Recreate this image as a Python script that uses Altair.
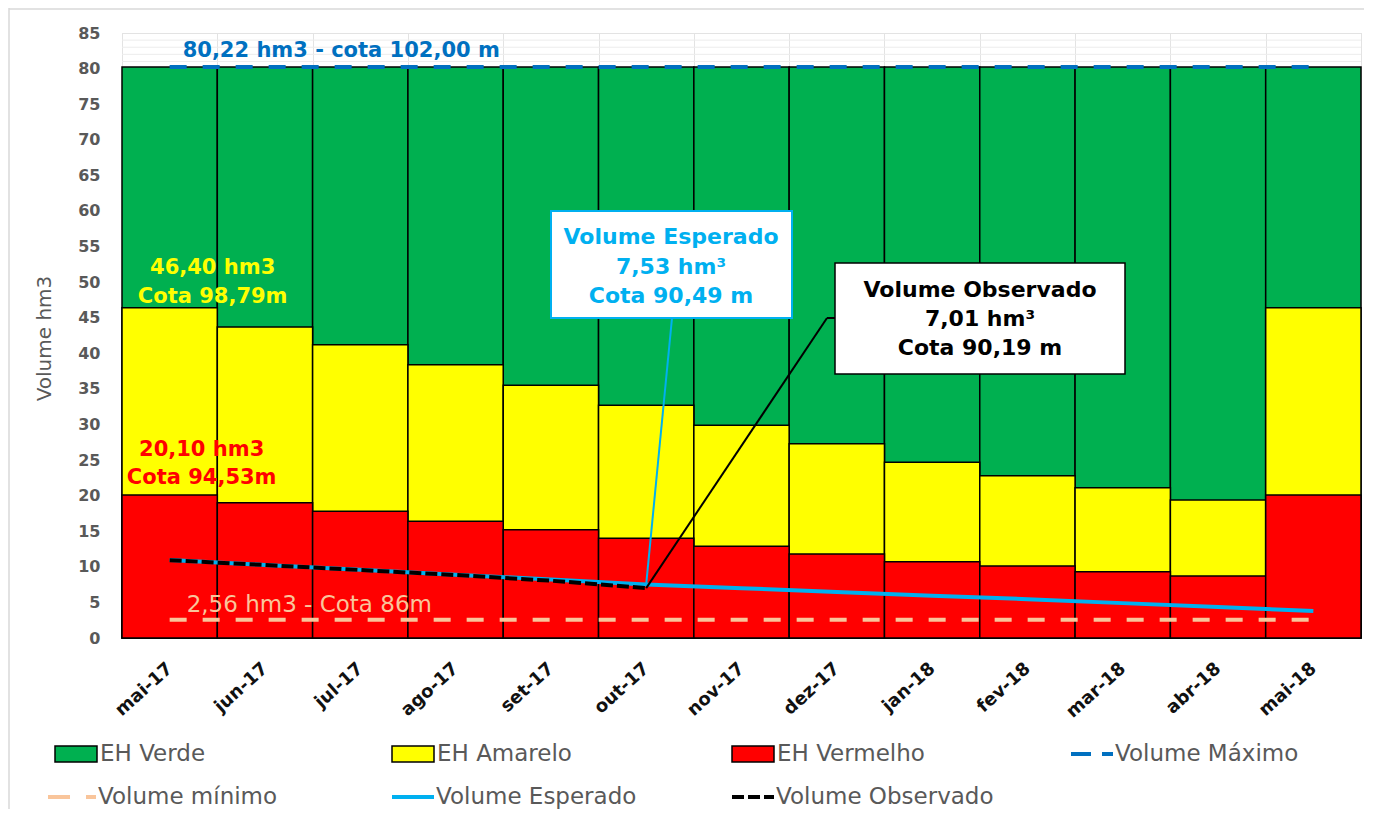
import altair as alt
import pandas as pd

months = ["mai-17", "jun-17", "jul-17", "ago-17", "set-17", "out-17", "nov-17",
          "dez-17", "jan-18", "fev-18", "mar-18", "abr-18", "mai-18"]
verde = [80.22, 80.22, 80.22, 80.22, 80.22, 80.22, 80.22, 80.22, 80.22, 80.22, 80.22, 80.22, 80.22]
amarelo = [46.40, 43.7, 41.2, 38.4, 35.5, 32.7, 29.9, 27.3, 24.7, 22.8, 21.1, 19.4, 46.40]
vermelho = [20.10, 19.0, 17.8, 16.4, 15.2, 14.0, 12.9, 11.8, 10.7, 10.1, 9.3, 8.7, 20.10]
esperado = [10.96, 10.27, 9.59, 8.9, 8.21, 7.53, 7.0, 6.45, 5.95, 5.45, 4.9, 4.35, 3.8]
observado = [10.93, 10.25, 9.55, 8.85, 8.05, 7.01, None, None, None, None, None, None, None]
vol_max = [80.22] * 13
vol_min = [2.56] * 13
y_ticks = [0, 5, 10, 15, 20, 25, 30, 35, 40, 45, 50, 55, 60, 65, 70, 75, 80, 85]
minor_grid = [81, 82, 83, 84]

df = pd.DataFrame({"month": months, "verde": verde, "amarelo": amarelo,
                   "vermelho": vermelho, "esperado": esperado, "observado": observado,
                   "vmax": vol_max, "vmin": vol_min})
obs_df = df.dropna(subset=["observado"])
grid_df = pd.DataFrame({"g": minor_grid})

W, H = 1239, 605
FONT = "DejaVu Sans"
GRAY = "#595959"

x_axis = alt.Axis(labelAngle=-42, labelAlign="right", labelBaseline="middle",
                  labelFont=FONT, labelFontWeight="bold", labelFontSize=18,
                  labelColor="#111111", labelPadding=28, ticks=False,
                  labelOverlap=False,
                  domain=True, domainColor="#d9d9d9", grid=True,
                  gridColor="#e3e3e3", tickBand="extent")
x_scale = alt.Scale(paddingInner=0, paddingOuter=0)
y_scale = alt.Scale(domain=[0, 85], nice=False)
y_axis = alt.Axis(values=y_ticks, labelOverlap=False, labelSeparation=0,
                  labelFont=FONT, labelFontWeight="bold", labelFontSize=16,
                  labelColor=GRAY, labelPadding=22, ticks=False, domain=False,
                  grid=True, gridColor="#e3e3e3", title="Volume hm3",
                  titleFont=FONT, titleFontSize=20, titleFontWeight="normal",
                  titleColor=GRAY, titleX=-78, titleY=305, titleAngle=-90,
                  titleAlign="center", titleBaseline="middle")


def X():
    return alt.X("month:N", sort=months, title=None, scale=x_scale, axis=x_axis)


def Y(field):
    return alt.Y(f"{field}:Q", scale=y_scale, axis=y_axis)


base = alt.Chart(df)

grid_minor = alt.Chart(grid_df).mark_rule(color="#ececec", strokeWidth=1).encode(y=Y("g"))

verde_bar = base.mark_bar(color="#00B050", stroke="black", strokeWidth=1.5).encode(
    x=X(), y=Y("verde"))
amarelo_bar = base.mark_bar(color="#FFFF00", stroke="black", strokeWidth=1.5).encode(
    x=X(), y=Y("amarelo"))
vermelho_bar = base.mark_bar(color="#FF0000", stroke="black", strokeWidth=1.5).encode(
    x=X(), y=Y("vermelho"))

max_line = base.mark_line(color="#0070C0", strokeWidth=4, strokeDash=[17, 16]).encode(
    x=X(), y=Y("vmax"))
min_line = base.mark_line(color="#F9C59B", strokeWidth=4, strokeDash=[17, 16]).encode(
    x=X(), y=Y("vmin"))
esp_line = base.mark_line(color="#00B0F0", strokeWidth=4).encode(x=X(), y=Y("esperado"))
obs_line = alt.Chart(obs_df).mark_line(color="black", strokeWidth=4, strokeDash=[12, 4]).encode(
    x=X(), y=Y("observado"))


def fmt(v):
    return f"{v:.2f}".replace(".", ",")


first = df.iloc[[0]]
oct_row = df.iloc[[5]]

max_txt = alt.Chart(first).mark_text(
    align="left", baseline="middle", dx=13, dy=-16, font=FONT, fontWeight="bold",
    fontSize=21, color="#0070C0").encode(
    x=X(), y=Y("vmax"), text=alt.value(f"{fmt(vol_max[0])} hm3 - cota 102,00 m"))
min_txt = alt.Chart(first).mark_text(
    align="left", baseline="middle", dx=17, dy=-15, font=FONT, fontWeight="normal",
    fontSize=23, color="#F9C59B").encode(
    x=X(), y=Y("vmin"), text=alt.value(f"{fmt(vol_min[0])} hm3 - Cota 86m"))
am_txt = alt.Chart(first).mark_text(
    align="center", baseline="middle", dx=43, dy=-40, lineHeight=29, font=FONT,
    fontWeight="bold", fontSize=21, color="#FFFF00").encode(
    x=X(), y=Y("amarelo"), text=alt.value([f"{fmt(amarelo[0])} hm3", "Cota 98,79m"]))
vm_txt = alt.Chart(first).mark_text(
    align="center", baseline="middle", dx=32, dy=-45, lineHeight=28, font=FONT,
    fontWeight="bold", fontSize=21, color="#FF0000").encode(
    x=X(), y=Y("vermelho"), text=alt.value([f"{fmt(vermelho[0])} hm3", "Cota 94,53m"]))

one = pd.DataFrame({"k": [0]})

# annotation boxes
esp_leader = alt.Chart(oct_row).mark_rule(color="#00B0F0", strokeWidth=2).encode(
    x=X(), y=Y("esperado"), x2=alt.value(550), y2=alt.value(285))
obs_leader = alt.Chart(oct_row).mark_rule(color="black", strokeWidth=2).encode(
    x=X(), y=Y("observado"), x2=alt.value(705), y2=alt.value(285))
obs_leader2 = alt.Chart(one).mark_rule(color="black", strokeWidth=2).encode(
    x=alt.value(705), x2=alt.value(713), y=alt.value(285), y2=alt.value(285))
esp_box = alt.Chart(one).mark_rect(fill="white", stroke="#00B0F0", strokeWidth=2).encode(
    x=alt.value(429), x2=alt.value(670), y=alt.value(178), y2=alt.value(285))
obs_box = alt.Chart(one).mark_rect(fill="white", stroke="black", strokeWidth=1.5).encode(
    x=alt.value(713), x2=alt.value(1003), y=alt.value(230), y2=alt.value(341))
esp_box_txt = alt.Chart(one).mark_text(
    align="center", baseline="middle", lineHeight=29.5, font=FONT, fontWeight="bold",
    fontSize=22, color="#00B0F0").encode(
    x=alt.value(549), y=alt.value(204),
    text=alt.value(["Volume Esperado", f"{fmt(esperado[5])} hm³", "Cota 90,49 m"]))
obs_box_txt = alt.Chart(one).mark_text(
    align="center", baseline="middle", lineHeight=29, font=FONT, fontWeight="bold",
    fontSize=22, color="black").encode(
    x=alt.value(858), y=alt.value(257),
    text=alt.value(["Volume Observado", f"{fmt(observado[5])} hm³", "Cota 90,19 m"]))

# outer chart border
border_l = alt.Chart(one).mark_rule(color="#d9d9d9", strokeWidth=1.5).encode(
    x=alt.value(-113), x2=alt.value(-113), y=alt.value(-25), y2=alt.value(H + 180))
border_t = alt.Chart(one).mark_rule(color="#d9d9d9", strokeWidth=1.5).encode(
    x=alt.value(-113), x2=alt.value(W + 10), y=alt.value(-24), y2=alt.value(-24))

# legend
leg_layers = []
ROW1, ROW2 = 721, 764
LFS = 23
squares = [("EH Verde", "#00B050", -67), ("EH Amarelo", "#FFFF00", 270), ("EH Vermelho", "#FF0000", 610)]
for name, col, sx in squares:
    leg_layers.append(alt.Chart(one).mark_rect(fill=col, stroke="black", strokeWidth=1.5).encode(
        x=alt.value(sx), x2=alt.value(sx + 42), y=alt.value(ROW1 - 8), y2=alt.value(ROW1 + 8)))
    leg_layers.append(alt.Chart(one).mark_text(
        align="left", baseline="middle", font=FONT, fontSize=LFS, color=GRAY).encode(
        x=alt.value(sx + 45), y=alt.value(ROW1), text=alt.value(name)))
lines = [("Volume Máximo", "#0070C0", 949, 42, ROW1, [20, 11, 11, 30]),
         ("Volume mínimo", "#F9C59B", -74, 48, ROW2, [22, 16, 10, 30]),
         ("Volume Esperado", "#00B0F0", 270, 42, ROW2, None),
         ("Volume Observado", "black", 610, 42, ROW2, [12, 4, 12, 4, 12, 4, 4, 30])]
for name, col, sx, ln, ry, dash in lines:
    kw = dict(color=col, strokeWidth=4)
    if dash:
        kw["strokeDash"] = dash
    leg_layers.append(alt.Chart(one).mark_rule(**kw).encode(
        x=alt.value(sx), x2=alt.value(sx + ln), y=alt.value(ry), y2=alt.value(ry)))
    leg_layers.append(alt.Chart(one).mark_text(
        align="left", baseline="middle", font=FONT, fontSize=LFS, color=GRAY).encode(
        x=alt.value(sx + ln + 2), y=alt.value(ry), text=alt.value(name)))

chart = alt.layer(
    grid_minor, verde_bar, amarelo_bar, vermelho_bar, max_line, min_line, esp_line, obs_line,
    max_txt, min_txt, am_txt, vm_txt, esp_leader, obs_leader, obs_leader2,
    esp_box, obs_box, esp_box_txt, obs_box_txt, border_l, border_t, *leg_layers
).properties(
    width=W, height=H,
    autosize=alt.AutoSizeParams(type="none"),
    padding={"left": 114, "top": 25, "right": 3, "bottom": 171},
).configure_view(stroke="#e3e3e3").configure_axis(labelOverlap=False).configure(background="white")

chart.save("out.html", embed_options={"renderer": "svg", "actions": False})
